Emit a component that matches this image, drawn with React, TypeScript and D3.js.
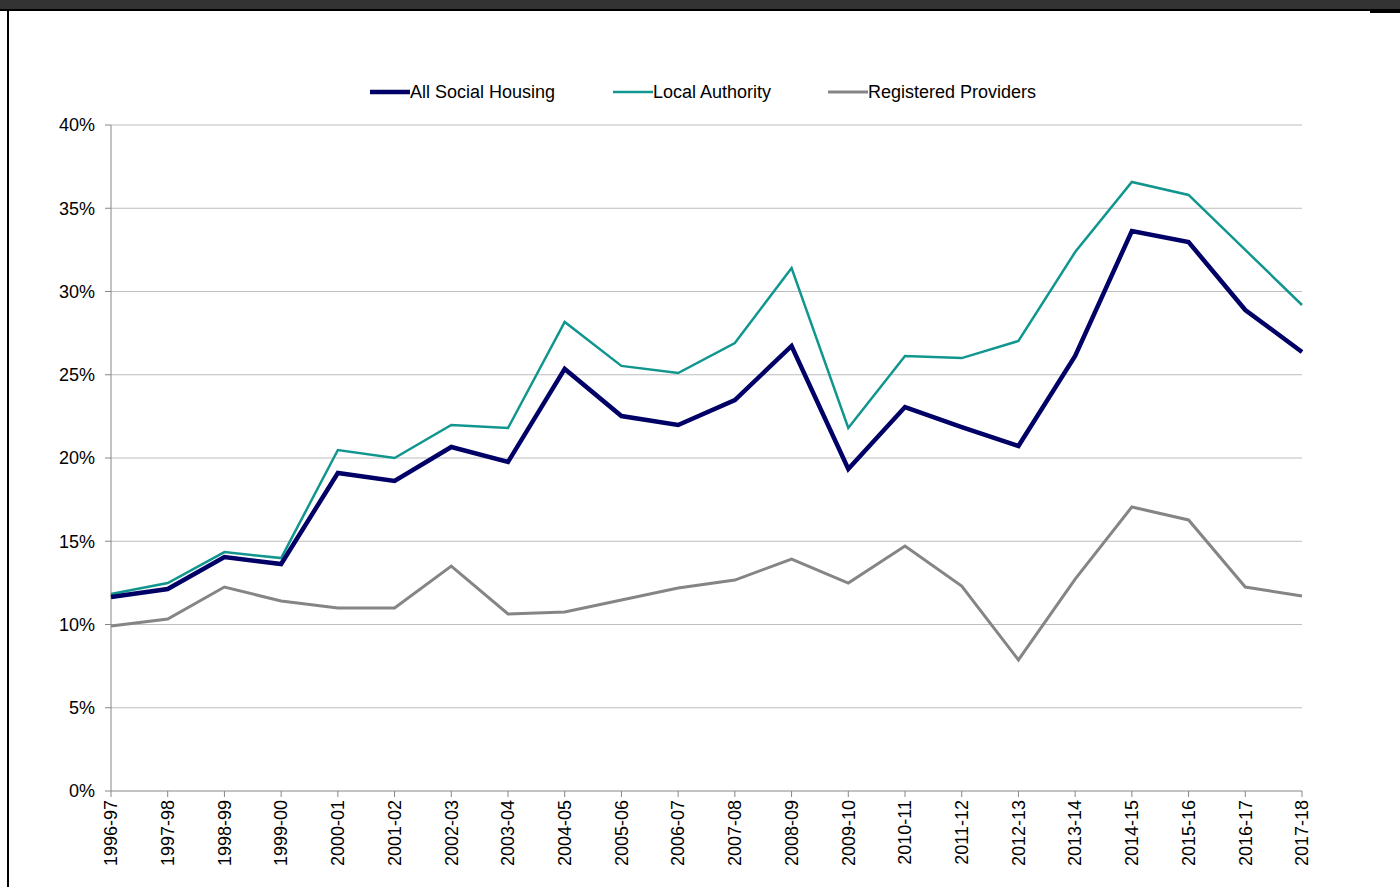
import React from "react";
import * as d3 from "d3";

const categories = [
  "1996-97", "1997-98", "1998-99", "1999-00", "2000-01", "2001-02", "2002-03", "2003-04",
  "2004-05", "2005-06", "2006-07", "2007-08", "2008-09", "2009-10", "2010-11", "2011-12",
  "2012-13", "2013-14", "2014-15", "2015-16", "2016-17", "2017-18",
];

const allSocialHousing = [
  11.65, 12.13, 14.05, 13.63, 19.1, 18.62, 20.66, 19.76, 25.35, 22.52, 21.98, 23.48,
  26.73, 19.34, 23.06, 21.86, 20.72, 26.13, 33.63, 32.97, 28.89, 26.37,
];

const localAuthority = [
  11.83, 12.49, 14.35, 13.99, 20.48, 20.0, 21.98, 21.8, 28.17, 25.53, 25.1, 26.9,
  31.41, 21.8, 26.13, 26.0, 27.03, 32.37, 36.58, 35.8, 32.5, 29.19,
];

const registeredProviders = [
  9.91, 10.33, 12.25, 11.41, 10.99, 10.99, 13.51, 10.63, 10.75, 11.47, 12.19, 12.67,
  13.93, 12.49, 14.71, 12.31, 7.87, 12.73, 17.06, 16.28, 12.25, 11.71,
];

const yTicks = [0, 5, 10, 15, 20, 25, 30, 35, 40];

const seriesNames = ["All Social Housing", "Local Authority", "Registered Providers"];

const W = 1400;
const H = 887;
const FONT = "'Liberation Sans', Arial, sans-serif";

export default function App() {
  const x = d3.scalePoint<string>().domain(categories).range([111, 1302]);
  const y = d3.scaleLinear().domain([0, 40]).range([791, 125]);

  const series = [
    { name: seriesNames[0], values: allSocialHousing, color: "#000066", width: 4.5 },
    { name: seriesNames[1], values: localAuthority, color: "#11968f", width: 2.5 },
    { name: seriesNames[2], values: registeredProviders, color: "#858585", width: 3 },
  ];

  const line = d3
    .line<number>()
    .x((_, i) => x(categories[i]) as number)
    .y((d) => y(d));

  const legendX = [370, 613, 828];
  const drawOrder = [2, 1, 0];

  return (
    <svg
      width={W}
      height={H}
      style={{ position: "absolute", left: 0, top: 0, background: "#fff" }}
      fontFamily={FONT}
    >
      <rect x={0} y={0} width={W} height={H} fill="#fff" />
      {/* top banner */}
      <rect x={0} y={0} width={W} height={9} fill="#333333" />
      <rect x={0} y={9} width={W} height={2} fill="#000" />
      <rect x={1370} y={11} width={30} height={2} fill="#000" />
      <rect x={7} y={9} width={2} height={H - 9} fill="#000" />

      {/* gridlines */}
      {yTicks.map((t) =>
        t === 0 ? null : (
          <line key={t} x1={111} x2={1302} y1={y(t)} y2={y(t)} stroke="#bdbdbd" strokeWidth={1} />
        )
      )}

      {/* y axis */}
      <line x1={111} x2={111} y1={y(40)} y2={y(0)} stroke="#868686" strokeWidth={1} />
      {yTicks.map((t) => (
        <g key={"yt" + t}>
          <line x1={105} x2={111} y1={y(t)} y2={y(t)} stroke="#868686" strokeWidth={1} />
          <text x={95} y={y(t)} dy="0.35em" textAnchor="end" fontSize={18} fill="#000">
            {t}%
          </text>
        </g>
      ))}

      {/* x axis */}
      <line x1={111} x2={1302} y1={y(0)} y2={y(0)} stroke="#868686" strokeWidth={1} />
      {categories.map((c) => {
        const cx = x(c) as number;
        return (
          <g key={c}>
            <line x1={cx} x2={cx} y1={y(0)} y2={y(0) + 6} stroke="#868686" strokeWidth={1} />
            <text
              transform={`translate(${cx},${y(0) + 9}) rotate(-90)`}
              textAnchor="end"
              dy="0.35em"
              fontSize={18}
              fill="#000"
            >
              {c}
            </text>
          </g>
        );
      })}

      {/* lines */}
      {drawOrder.map((i) => {
        const s = series[i];
        return (
          <path
            key={s.name}
            d={line(s.values) || ""}
            fill="none"
            stroke={s.color}
            strokeWidth={s.width}
            strokeLinejoin="miter"
          />
        );
      })}

      {/* legend */}
      {series.map((s, i) => (
        <g key={"lg" + s.name}>
          <line
            x1={legendX[i]}
            x2={legendX[i] + 40}
            y1={92}
            y2={92}
            stroke={s.color}
            strokeWidth={s.width}
          />
          <text x={legendX[i] + 40} y={92} dy="0.35em" fontSize={18} fill="#000">
            {s.name}
          </text>
        </g>
      ))}
    </svg>
  );
}
